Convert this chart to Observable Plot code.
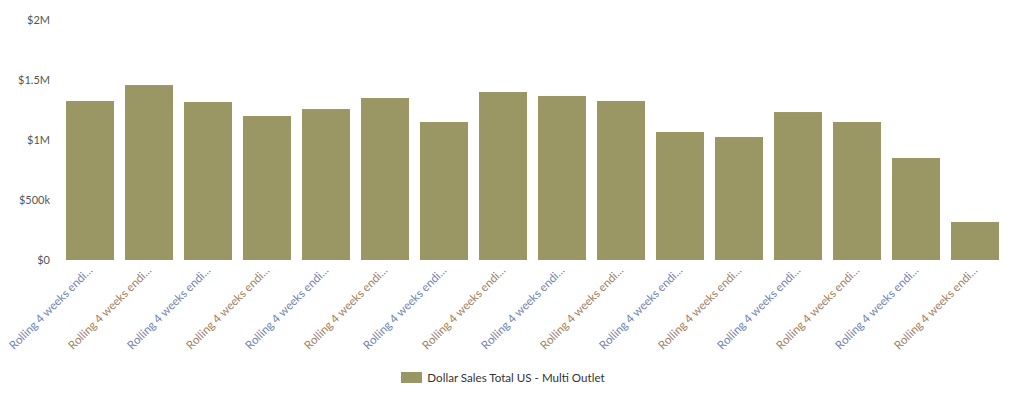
<!DOCTYPE html>
<html>
<head>
<meta charset="utf-8">
<script src="https://cdn.jsdelivr.net/npm/d3@7"></script>
<script src="https://cdn.jsdelivr.net/npm/@observablehq/plot@0.6"></script>
<style>
  html, body { margin: 0; padding: 0; background: #fff; }
  body { width: 1026px; height: 396px; overflow: hidden; font-family: Lato, "Open Sans", sans-serif; }
  #legend { display: flex; justify-content: center; align-items: center; margin-top: 9px; font-size: 11.6px; color: #333; padding-right: 20px; }
  #legend .sw { width: 21px; height: 11px; background: #9a9764; margin-right: 5px; }
</style>
</head>
<body>
<div id="chart"></div>
<div id="legend"><span class="sw"></span><span>Dollar Sales Total US - Multi Outlet</span></div>
<script>
const periods = ["P01","P02","P03","P04","P05","P06","P07","P08","P09","P10","P11","P12","P13","P14","P15","P16"];
const periodLabels = Array(16).fill("Rolling 4 weeks endi...");
const dollarSales = [1325000,1458000,1317000,1200000,1258000,1350000,1150000,1400000,1367000,1325000,1067000,1025000,1233000,1150000,850000,317000];
const yTicks = [0, 500000, 1000000, 1500000, 2000000];
const yTickLabels = ["$0", "$500k", "$1M", "$1.5M", "$2M"];
const seriesName = "Dollar Sales Total US - Multi Outlet";

const data = periods.map((p, i) => ({period: p, label: periodLabels[i], value: dollarSales[i], series: seriesName}));

const chart = Plot.plot({
  width: 1026,
  height: 362,
  marginTop: 20,
  marginBottom: 102,
  marginLeft: 60.5,
  marginRight: 21.5,
  style: {fontFamily: "Lato, 'Open Sans', sans-serif", fontSize: "11px", color: "#666", background: "#fff"},
  x: {domain: periods, paddingInner: 0.186, paddingOuter: 0.093, label: null},
  y: {domain: [0, 2000000], label: null},
  marks: [
    Plot.barY(data, {x: "period", y: "value", fill: "#9a9764"}),
    Plot.axisY({ticks: yTicks, tickFormat: (d) => yTickLabels[yTicks.indexOf(d)], tickSize: 0, tickPadding: 11, label: null, fill: "#555", fontSize: 11}),
    Plot.axisX({tickFormat: (d) => periodLabels[periods.indexOf(d)], tickRotate: -45, tickSize: 0, tickPadding: 8, label: null,
      fill: (d) => periods.indexOf(d) % 2 === 0 ? "#6f85ad" : "#a4805f", fontSize: 11.6, textOverflow: null})
  ]
});
document.getElementById("chart").appendChild(chart);
</script>
</body>
</html>
